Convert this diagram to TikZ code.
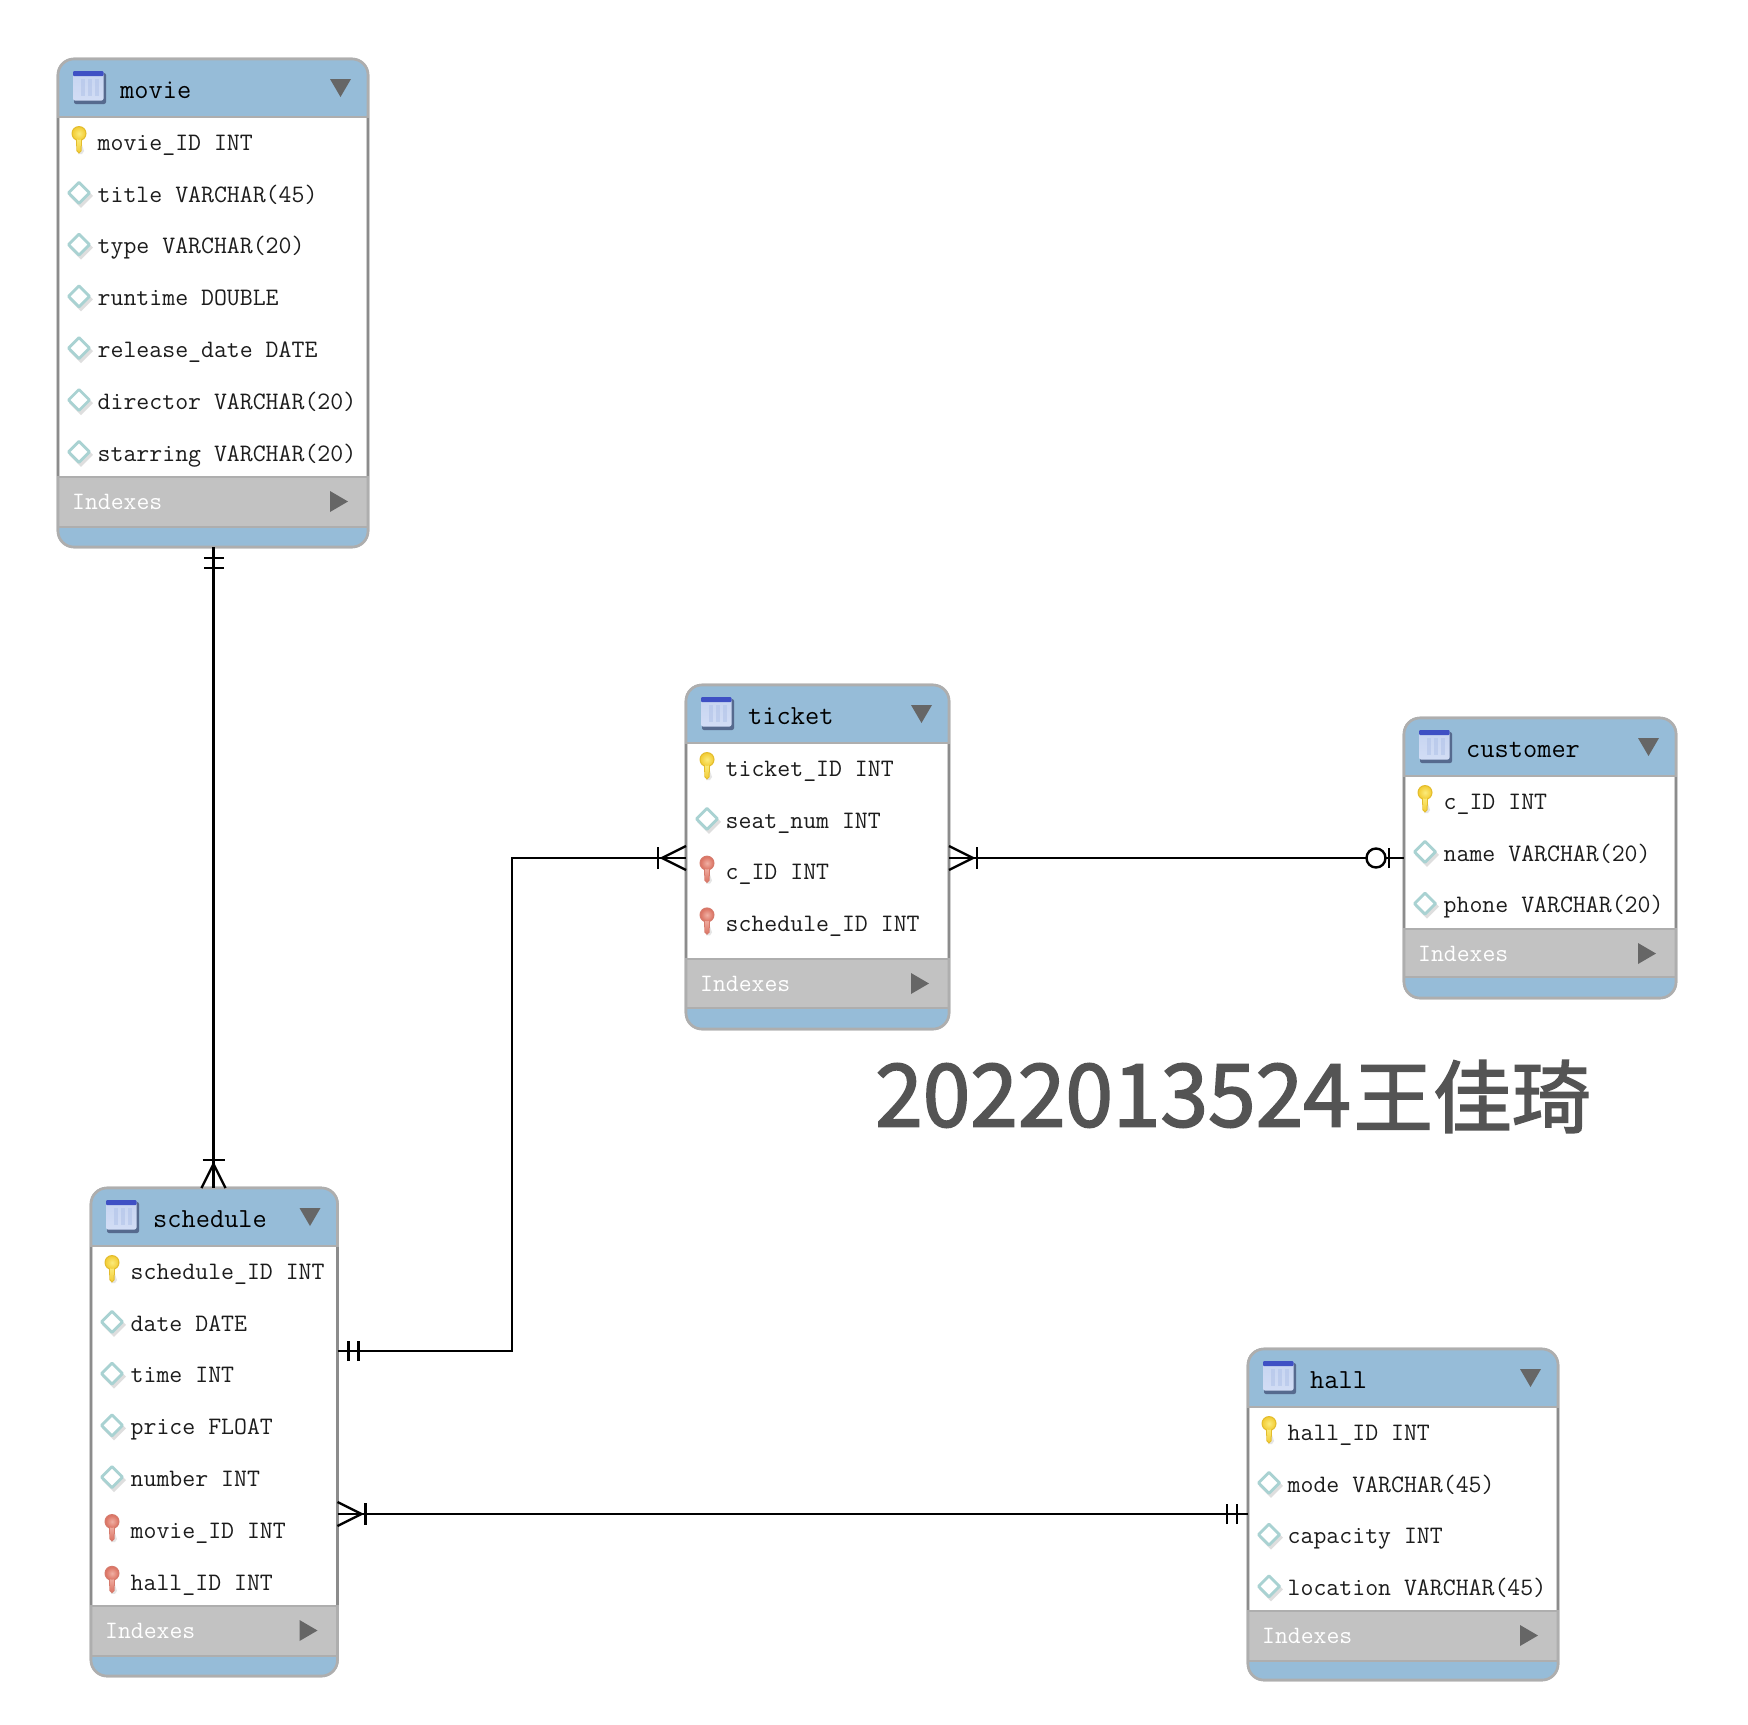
\documentclass[tikz,border=0pt]{standalone}
\usepackage{graphicx}
\usepackage{fontspec}
\newfontfamily\cjk[FakeBold=2]{Noto Sans CJK SC}
\definecolor{hdrblue}{HTML}{96BCD8}
\definecolor{idxgrey}{HTML}{C2C2C2}
\definecolor{edgegrey}{HTML}{AEAEAE}
\definecolor{sidegrey}{HTML}{8C8C8C}
\definecolor{tri}{HTML}{666666}
\definecolor{rowink}{HTML}{1C1C1C}
\tikzset{
  tablebox/.style={draw=edgegrey,line width=2.6pt,fill=white,rounded corners=16pt,inner sep=0pt,outer sep=0pt},
  rowtext/.style={anchor=base west,inner sep=0pt,text=rowink,font=\ttfamily\fontsize{25.1}{28}\selectfont},
  titletext/.style={anchor=base west,inner sep=0pt,text=black,font=\ttfamily\fontsize{27.6}{30}\selectfont},
  idxtext/.style={anchor=base west,inner sep=0pt,text=white,font=\ttfamily\fontsize{25}{28}\selectfont},
  rel/.style={draw=black,line width=2.4pt},
  pics/crowfoot/.style={code={
    \draw[rel] (0,-12) -- (24,0) -- (0,12);
    \draw[rel] (28,-11) -- (28,11);
  }},
  pics/onebars/.style={code={
    \draw[rel] (11,-10) -- (11,10);
    \draw[rel] (21,-10) -- (21,10);
  }},
  pics/zeroone/.style={code={
    \draw[rel] (15,-10) -- (15,10);
    \draw[rel,fill=white] (28,0) circle (9.5);
  }},
  pics/pkkey/.style={code={
    \fill[black!10] (3,2) -- (5,8) -- (3,11) -- (-1,11) -- cycle;
    \fill[keyedge] (-3,-5) -- (-2.6,8) -- (0,10.5) -- (2.6,8) -- (3,-5) -- cycle;
    \fill[keyedge] (0,-9.5) circle (7.5);
    \shade[top color=keyhi,bottom color=keybody] (-2,-5) -- (-1.6,7.5) -- (0,9) -- (1.6,7.5) -- (2,-5) -- cycle;
    \shade[inner color=keyhi,outer color=keybody] (0,-9.5) circle (6.3);
  }},
  pics/attr/.style={code={
    \fill[black!13] (14,3) -- (2,15) -- (-10,3) -- (2,-9) -- cycle;
    \draw[draw=attrteal,line width=2.8pt,fill=white,line join=round] (10.5,0) -- (0,10.5) -- (-10.5,0) -- (0,-10.5) -- cycle;
  }},
  pics/tableicon/.style={code={
    \fill[iconshadow,rounded corners=2pt] (1,2) rectangle (33,33);
    \shade[top color=iconhi,bottom color=iconlo,rounded corners=2pt] (0,0) rectangle (30.5,29.5);
    \fill[iconstripe,opacity=.55] (8,8) rectangle (12,25);
    \fill[iconstripe,opacity=.55] (15,8) rectangle (19,25);
    \fill[iconstripe,opacity=.55] (22,8) rectangle (26,25);
    \fill[iconbar,rounded corners=1pt] (0,0) rectangle (30.5,5);
  }},
}
\definecolor{attrteal}{HTML}{A9D2D2}
\definecolor{iconhi}{HTML}{C6D4F0}
\definecolor{iconlo}{HTML}{D2DDF5}
\definecolor{iconstripe}{HTML}{B0C2E8}
\definecolor{iconbar}{HTML}{3E50C4}
\definecolor{iconshadow}{HTML}{566A8E}
\definecolor{ykedge}{HTML}{E3BC2C}
\definecolor{ykhi}{HTML}{FBEB7C}
\definecolor{ykbody}{HTML}{F3CE38}
\definecolor{rkedge}{HTML}{D67A6C}
\definecolor{rkhi}{HTML}{F0B0A4}
\definecolor{rkbody}{HTML}{DC7565}
\colorlet{keyedge}{white}
\colorlet{keyhi}{white}
\colorlet{keybody}{white}
\newcommand{\yellowkey}{\colorlet{keyedge}{ykedge}\colorlet{keyhi}{ykhi}\colorlet{keybody}{ykbody}}
\newcommand{\redkey}{\colorlet{keyedge}{rkedge}\colorlet{keyhi}{rkhi}\colorlet{keybody}{rkbody}}
% name, left, right, top, index top, index bottom, bottom, rows
\newcommand{\erdtable}[8]{%
  \node[tablebox,minimum width={(#3-#2)*1pt},minimum height={(#7-#4)*1pt}] (#1) at ({(#2+#3)/2},{(#4+#7)/2}) {};
  \begin{scope}
    \clip[rounded corners=16pt] (#2,#4) rectangle (#3,#7);
    \fill[hdrblue] (#2,#4) rectangle (#3,#4+58);
    \fill[idxgrey] (#2,#5) rectangle (#3,#6);
    \fill[hdrblue] (#2,#6) rectangle (#3,#7);
    \draw[edgegrey,line width=2pt] (#2,#4+58) -- (#3,#4+58);
    \draw[edgegrey,line width=2pt] (#2,#5) -- (#3,#5);
    \draw[edgegrey,line width=2pt] (#2,#6) -- (#3,#6);
  \end{scope}
  \draw[edgegrey,line width=2.6pt,rounded corners=16pt] (#2,#4) rectangle (#3,#7);
  \draw[sidegrey,line width=2.2pt] (#2,#4+59) -- (#2,#5-1);
  \draw[sidegrey,line width=2.2pt] (#3,#4+59) -- (#3,#5-1);
  \pic at (#2+15,#4+12) {tableicon};
  \node[titletext] (#1-title) at (#2+62,#4+39.8) {#1};
  \fill[tri] (#3-38,#4+20) -- (#3-17,#4+20) -- (#3-27.5,#4+38) -- cycle;
  \foreach \kind/\txt [count=\i from 0] in {#8}{
    \ifnum\pdfstrcmp{\kind}{d}=0
      \pic at (#2+21,{#4+82+\i*51.8}) {attr};
    \else
      \ifnum\pdfstrcmp{\kind}{k}=0 \yellowkey \else \redkey \fi
      \pic at (#2+21,{#4+84+\i*51.8}) {pkkey};
    \fi
    \node[rowtext] (#1-row\i) at (#2+39.5,{#4+91.2+\i*51.8}) {\txt};
  }
  \node[idxtext] (#1-idx) at (#2+14,#5+32.5) {Indexes};
  \fill[tri] (#3-38,#5+14) -- (#3-20,#5+24.5) -- (#3-38,#5+35) -- cycle;
}
\begin{document}
\begin{tikzpicture}[x=1pt,y=-1pt]
\useasboundingbox (0,0) rectangle (1748,1724);
\fill[white] (0,0) rectangle (1748,1724);
\erdtable{movie}{58}{368}{59}{477}{527}{547}{k/movie\_ID INT,d/title VARCHAR(45),d/type VARCHAR(20),d/runtime DOUBLE,d/release\_date DATE,d/director VARCHAR(20),d/starring VARCHAR(20)}
\erdtable{ticket}{686}{949}{685}{959}{1008}{1029}{k/ticket\_ID INT,d/seat\_num INT,f/c\_ID INT,f/schedule\_ID INT}
\erdtable{customer}{1404}{1676}{718}{929}{977}{998}{k/c\_ID INT,d/name VARCHAR(20),d/phone VARCHAR(20)}
\erdtable{schedule}{91}{337.5}{1188}{1606}{1656}{1676}{k/schedule\_ID INT,d/date DATE,d/time INT,d/price FLOAT,d/number INT,f/movie\_ID INT,f/hall\_ID INT}
\erdtable{hall}{1248}{1558}{1349}{1611}{1661}{1680}{k/hall\_ID INT,d/mode VARCHAR(45),d/capacity INT,d/location VARCHAR(45)}

% connector levels
\coordinate (levelTicket) at (0,858);
\coordinate (levelSched) at (0,1351);
\coordinate (levelHall) at (0,1514);
\coordinate (joint) at (512,0);
\coordinate (spine) at (213.5,0);

% movie -- schedule
\draw[rel] (movie.south -| spine) -- (schedule.north -| spine);
\pic[rotate=-90] at (movie.south -| spine) {onebars};
\pic[rotate=90] at (schedule.north -| spine) {crowfoot};
% schedule -- ticket
\draw[rel] (schedule.east |- levelSched) -| (joint |- levelTicket) -- (ticket.west |- levelTicket);
\pic at (schedule.east |- levelSched) {onebars};
\pic[rotate=180] at (ticket.west |- levelTicket) {crowfoot};
% ticket -- customer
\draw[rel] (ticket.east |- levelTicket) -- (customer.west |- levelTicket);
\pic at (ticket.east |- levelTicket) {crowfoot};
\pic[rotate=180] at (customer.west |- levelTicket) {zeroone};
% schedule -- hall
\draw[rel] (schedule.east |- levelHall) -- (hall.west |- levelHall);
\pic at (schedule.east |- levelHall) {crowfoot};
\pic[rotate=180] at (hall.west |- levelHall) {onebars};

\node[anchor=base west,inner sep=0pt,text=black!67] (author) at (875,1126.5) {\cjk\scalebox{.985}[1]{\fontsize{87}{90}\selectfont 2022013524}\hspace{3pt}\fontsize{79}{90}\selectfont 王佳琦};
\end{tikzpicture}
\end{document}
